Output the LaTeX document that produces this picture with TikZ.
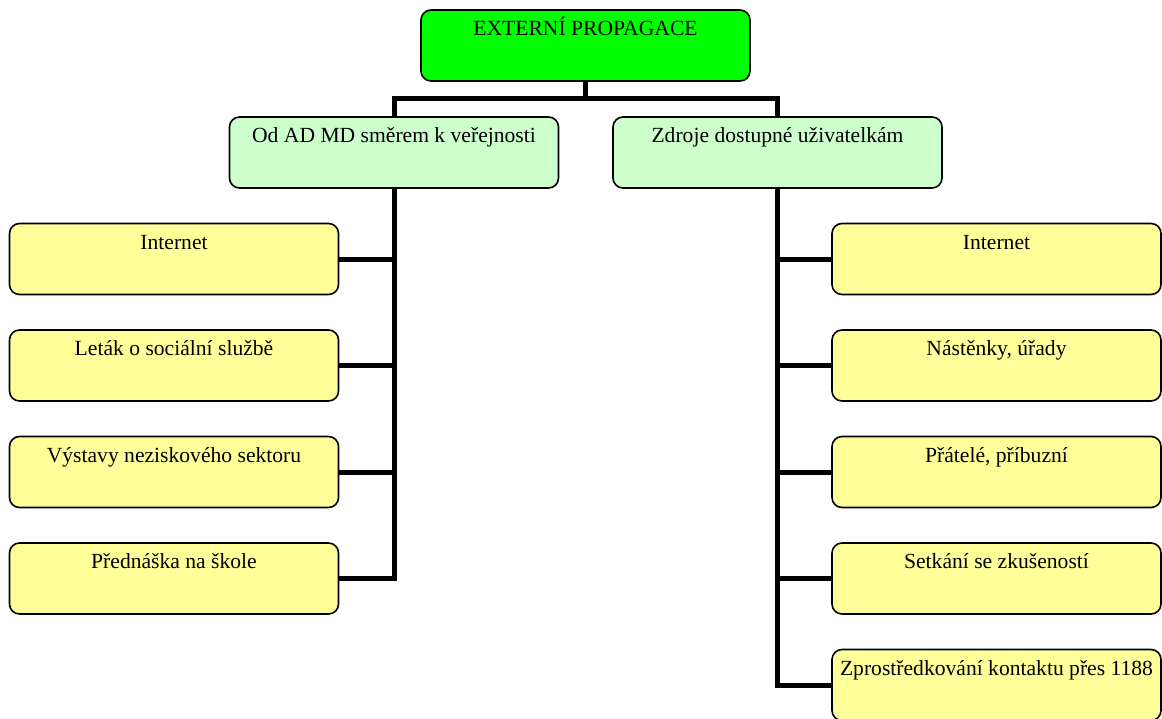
\documentclass[tikz,border=0pt]{standalone}
\usepackage{fontspec}
\setmainfont{Liberation Serif}
\definecolor{topgreen}{HTML}{00FF00}
\definecolor{midgreen}{HTML}{CCFFCC}
\definecolor{leafyellow}{HTML}{FFFF99}
\begin{document}
\begin{tikzpicture}[x=0.5pt,y=-0.5pt,
	box/.style={draw,line width=0.8pt,rounded corners=5pt,inner sep=0pt,align=center,
		minimum width=164.5pt,minimum height=35.5pt,text height=12.8pt,text depth=22.7pt,
		font=\fontsize{10.8}{13}\selectfont},
	root/.style={box,fill=topgreen},
	branch/.style={box,fill=midgreen},
	leaf/.style={box,fill=leafyellow},
	conn/.style={line width=2.5pt}]
				\useasboundingbox (0,0) rectangle (1162,718);
				% levels 1 and 2
				\node[root] (top) at (585.5,45.5) {EXTERNÍ PROPAGACE};
				\node[branch] (l2a) at (394,152.5) {Od AD MD směrem k veřejnosti};
				\node[branch] (l2b) at (777.5,152.5) {Zdroje dostupné uživatelkám};
				\draw[conn] (top.south) -- ++(0,17) coordinate (bar);
				\draw[conn] (l2a.north) |- (bar) -| (l2b.north);
				% left leaves
				\foreach \t [count=\i] in {Internet,Leták o sociální službě,Výstavy neziskového sektoru,Přednáška na škole}{
					\node[leaf] (l\i) at (174,{152.5+106.5*\i}) {\t};
				}
				\draw[conn] (l2a.south) |- (l4.east);
				\foreach \i in {1,2,3}{
					\draw[conn] (l2a.south |- l\i.east) -- (l\i.east);
				}
				% right leaves
				\foreach \t [count=\i] in {Internet,{Nástěnky, úřady},{Přátelé, příbuzní},Setkání se zkušeností,Zprostředkování kontaktu přes 1188}{
					\node[leaf] (r\i) at (996.5,{152.5+106.5*\i}) {\t};
				}
				\draw[conn] (l2b.south) |- (r5.west);
				\foreach \i in {1,2,3,4}{
					\draw[conn] (l2b.south |- r\i.west) -- (r\i.west);
				}
\end{tikzpicture}
\end{document}
